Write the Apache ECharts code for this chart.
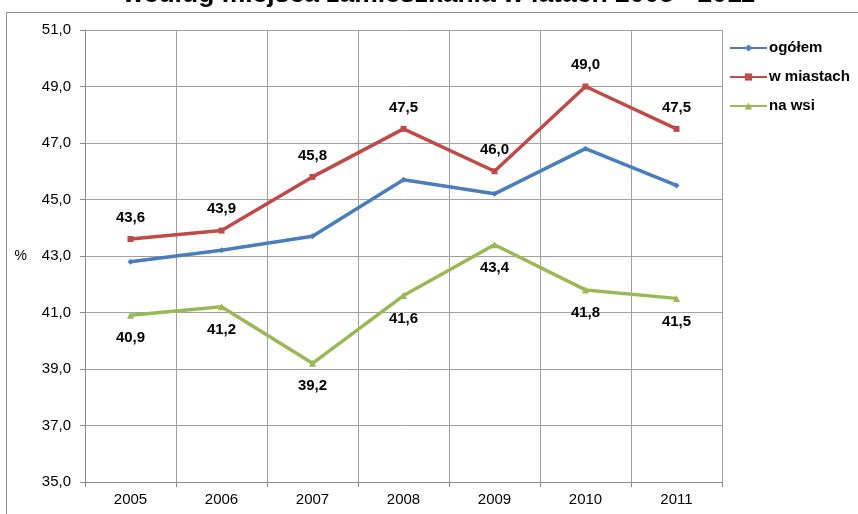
<!DOCTYPE html>
<html><head><meta charset="utf-8">
<script src="https://cdn.jsdelivr.net/npm/echarts@6/dist/echarts.min.js"></script>
<style>html,body{margin:0;padding:0;background:#fff}#c{width:858px;height:514px}</style>
</head><body><div id="c"></div>
<script>
const categories = ['2005','2006','2007','2008','2009','2010','2011'];
const ogolem = [42.8, 43.2, 43.7, 45.7, 45.2, 46.8, 45.5];
const wMiastach = [43.6, 43.9, 45.8, 47.5, 46.0, 49.0, 47.5];
const naWsi = [40.9, 41.2, 39.2, 41.6, 43.4, 41.8, 41.5];
const seriesNames = ['ogółem', 'w miastach', 'na wsi'];
const titleText = 'według miejsca zamieszkania w latach 2005 - 2011';
const yMin = 35, yMax = 51, yStep = 2;

const fmt = v => v.toFixed(1).replace('.', ',');
const font = 'Liberation Sans, Arial, sans-serif';
const chart = echarts.init(document.getElementById('c'), null, {renderer: 'canvas'});
chart.setOption({
  animation: false,
  backgroundColor: '#fff',
  graphic: [
    {type: 'rect', shape: {x: 6.5, y: 12.5, width: 900, height: 600}, style: {fill: 'none', stroke: '#8c8c8c', lineWidth: 1}, z: 0},
    {type: 'text', x: 439, y: -5, style: {text: titleText, font: 'bold 26.5px ' + font, fill: '#000', align: 'center', verticalAlign: 'middle'}}
  ],
  grid: {left: 85, top: 30, right: 136, bottom: 32, containLabel: false},
  legend: {
    orient: 'vertical', left: 724, top: 34, itemGap: 11, itemWidth: 37, itemHeight: 9,
    textStyle: {fontFamily: font, fontWeight: 'bold', fontSize: 15, color: '#000', padding: [0, 0, 0, -3], lineHeight: 18},
    data: seriesNames
  },
  xAxis: {
    type: 'category', data: categories, boundaryGap: true,
    axisLine: {lineStyle: {color: '#8c8c8c'}},
    axisTick: {show: true, length: 5, interval: 0, lineStyle: {color: '#8c8c8c'}},
    splitLine: {show: true, interval: 0, lineStyle: {color: '#a0a0a0', width: 1}},
    axisLabel: {fontFamily: font, fontSize: 15, color: '#000', margin: 10}
  },
  yAxis: {
    type: 'value', min: yMin, max: yMax, interval: yStep,
    name: '%', nameLocation: 'middle', nameRotate: 0, nameGap: 58,
    nameTextStyle: {fontFamily: font, fontSize: 14, color: '#000'},
    axisLine: {show: true, lineStyle: {color: '#8c8c8c'}},
    axisTick: {show: true, length: 5, lineStyle: {color: '#8c8c8c'}},
    splitLine: {show: true, lineStyle: {color: '#a0a0a0', width: 1}},
    axisLabel: {fontFamily: font, fontSize: 15, color: '#000', margin: 14, formatter: fmt}
  },
  series: [
    {name: seriesNames[0], type: 'line', data: ogolem, color: '#4A7EBB',
     lineStyle: {width: 3.5}, symbol: 'diamond', symbolSize: 6, showAllSymbol: true},
    {name: seriesNames[1], type: 'line', data: wMiastach, color: '#BE4B48',
     lineStyle: {width: 3.5}, symbol: 'rect', symbolSize: 6, showAllSymbol: true,
     label: {show: true, position: 'top', distance: 11, formatter: p => fmt(p.value), fontFamily: font, fontWeight: 'bold', fontSize: 15, color: '#000'}},
    {name: seriesNames[2], type: 'line', data: naWsi, color: '#98B954',
     lineStyle: {width: 3.5}, symbol: 'triangle', symbolSize: 7, showAllSymbol: true,
     label: {show: true, position: 'bottom', distance: 12, formatter: p => fmt(p.value), fontFamily: font, fontWeight: 'bold', fontSize: 15, color: '#000'}}
  ]
});
</script></body></html>
